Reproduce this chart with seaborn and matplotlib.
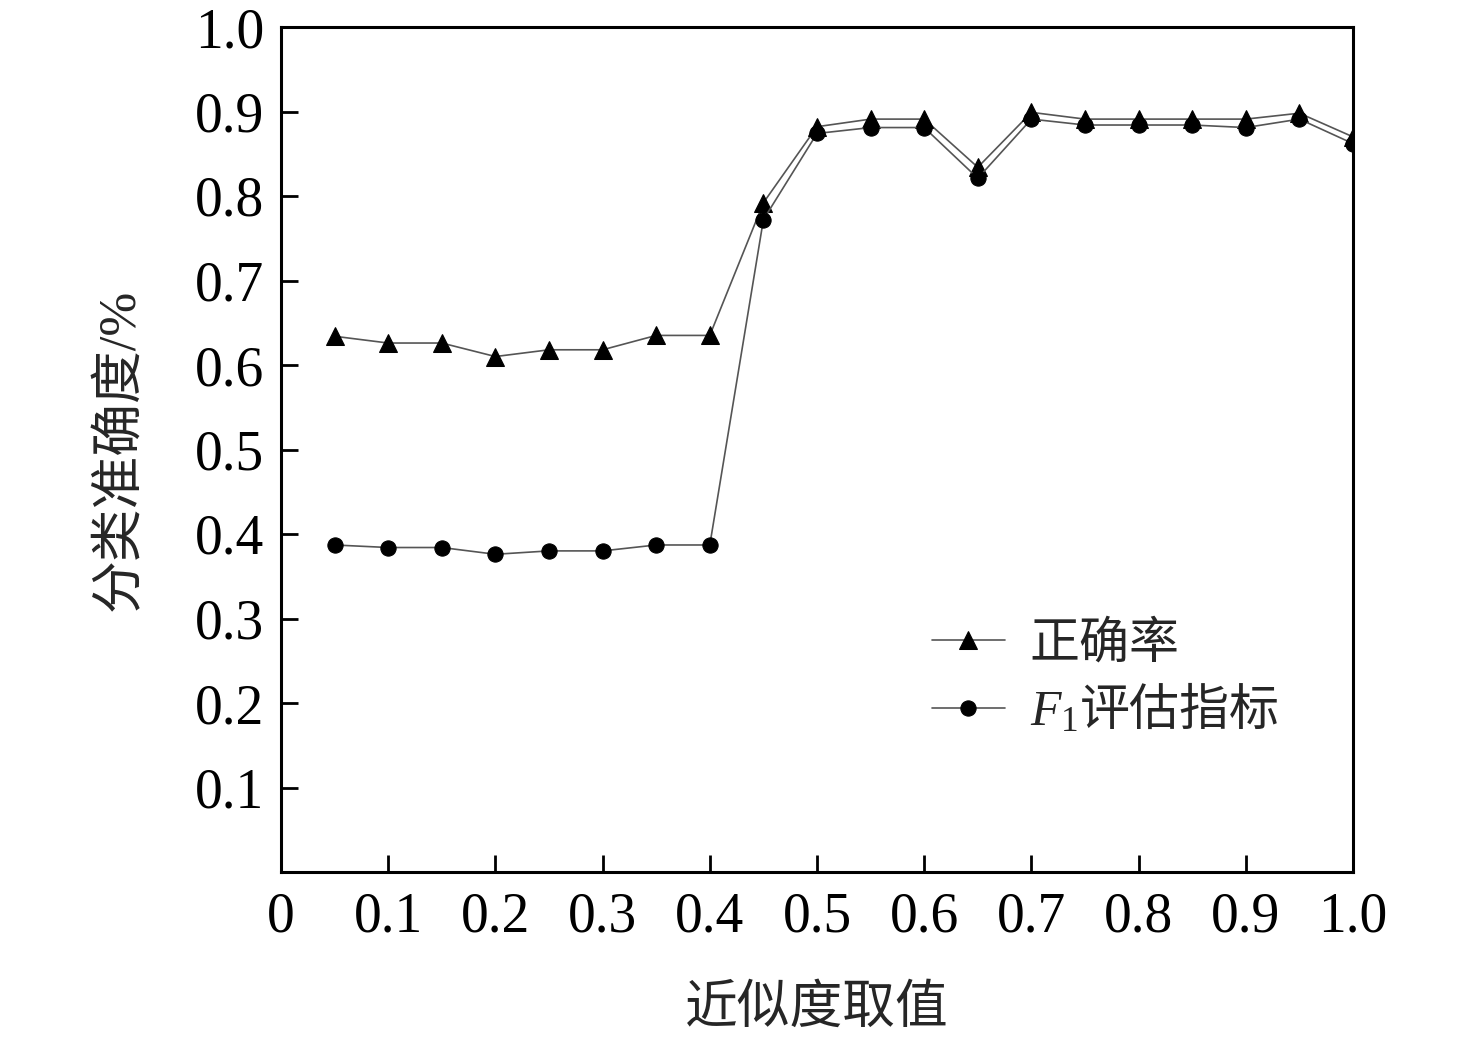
import numpy as np
import pandas as pd
import matplotlib
matplotlib.use("Agg")
import matplotlib.pyplot as plt
import seaborn as sns

x_vals = [0.05, 0.10, 0.15, 0.20, 0.25, 0.30, 0.35, 0.40, 0.45, 0.50,
          0.55, 0.60, 0.65, 0.70, 0.75, 0.80, 0.85, 0.90, 0.95, 1.00]
accuracy = [0.634, 0.626, 0.626, 0.610, 0.618, 0.618, 0.635, 0.635, 0.792, 0.882,
            0.891, 0.891, 0.834, 0.899, 0.891, 0.891, 0.891, 0.891, 0.898, 0.870]
f1_score = [0.387, 0.384, 0.384, 0.376, 0.380, 0.380, 0.387, 0.387, 0.772, 0.874,
            0.881, 0.881, 0.821, 0.891, 0.884, 0.884, 0.884, 0.881, 0.891, 0.862]
x_ticks = [0, 0.1, 0.2, 0.3, 0.4, 0.5, 0.6, 0.7, 0.8, 0.9, 1.0]
x_tick_labels = ["0", "0.1", "0.2", "0.3", "0.4", "0.5", "0.6", "0.7", "0.8", "0.9", "1.0"]
y_ticks = [0.1, 0.2, 0.3, 0.4, 0.5, 0.6, 0.7, 0.8, 0.9, 1.0]
y_tick_labels = ["0.1", "0.2", "0.3", "0.4", "0.5", "0.6", "0.7", "0.8", "0.9", "1.0"]
label_acc = "正确率"
label_f1_math = "$F_1$"
label_f1_cjk = "评估指标"
x_label = "近似度取值"
y_label = "分类准确度/%"

sns.set_style("white")
plt.rcParams['font.family'] = ['Liberation Serif', 'Noto Sans CJK SC', 'DejaVu Sans']
plt.rcParams['mathtext.fontset'] = 'custom'
plt.rcParams['mathtext.rm'] = 'Liberation Serif'
plt.rcParams['mathtext.it'] = 'Liberation Serif:italic'

fig = plt.figure(figsize=(14.76, 10.38), dpi=100)
ax = fig.add_axes([281/1476, 166/1038, 1072/1476, 845/1038])

df_acc = pd.DataFrame({"x": x_vals, "y": accuracy})
df_f1 = pd.DataFrame({"x": x_vals, "y": f1_score})

sns.lineplot(data=df_acc, x="x", y="y", ax=ax, color="#555555", linewidth=1.2,
             marker="^", markersize=12.5, markerfacecolor="black", markeredgecolor="black",
             label=label_acc)
sns.lineplot(data=df_f1, x="x", y="y", ax=ax, color="#555555", linewidth=1.2,
             marker="o", markersize=11, markerfacecolor="black", markeredgecolor="black",
             label=label_f1_math)

ax.set_xlim(0, 1.0)
ax.set_ylim(0, 1.0)
ax.set_xticks(x_ticks)
ax.set_xticklabels(x_tick_labels)
ax.set_yticks(y_ticks)
ax.set_yticklabels(y_tick_labels)
ax.tick_params(axis='both', direction='in', length=12, width=2, labelsize=40,
               colors='black', left=True, bottom=True)
ax.tick_params(axis='x', pad=14)
ax.tick_params(axis='y', pad=12)
for sp in ax.spines.values():
    sp.set_visible(True)
    sp.set_color('black')
    sp.set_linewidth(2.2)

ax.set_xlabel(x_label, fontsize=38, labelpad=30)
ax.set_ylabel(y_label, fontsize=38, labelpad=36)

leg = ax.legend(loc='upper left', bbox_to_anchor=((932-281)/1072, 0.296),
                frameon=False, fontsize=36, handlelength=1.45, handletextpad=0.5,
                labelspacing=0.42, borderpad=0, borderaxespad=0)

fig.canvas.draw()
renderer = fig.canvas.get_renderer()
t = leg.get_texts()[1]
bb = t.get_window_extent(renderer)
ox, oy = t.get_transform().transform(t.get_position())
fig.text(bb.x1 + 2, oy, label_f1_cjk, fontsize=36, ha='left', va='baseline',
         transform=None)

fig.savefig("out.png", dpi=100)
